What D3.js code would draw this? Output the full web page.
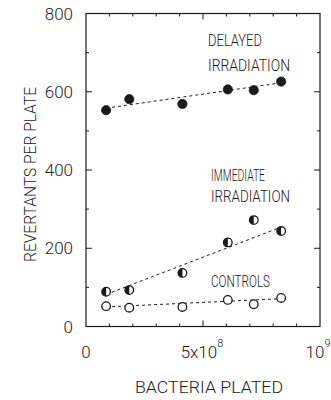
<!DOCTYPE html>
<html><head><meta charset="utf-8">
<script src="https://cdn.jsdelivr.net/npm/d3@7"></script>
<style>
html,body{margin:0;padding:0;background:#fff;}
svg text{font-family:Roboto,"Liberation Sans",sans-serif;font-weight:300;fill:#1a1a1a;}
</style></head>
<body><svg id="c" width="331" height="400"></svg>
<script>
// Data (bacteria plated, x 1e8 units)
const bacteria = [0.86, 1.85, 4.12, 6.06, 7.17, 8.34];
const delayed   = [553, 581, 569, 606, 604, 626];
const immediate = [89, 93, 137, 215, 272, 244];
const controls  = [52, 48, 50, 68, 57, 73];
// dashed fit lines: values at first and last plated amount
const fitX = [0.86, 8.34];
const fitDelayed   = [558, 623];
const fitImmediate = [82, 254];
const fitControls  = [50, 71];
const yTicks = [0, 200, 400, 600, 800];
const yMinor = [100, 300, 500, 700];
const xMinor = [1,2,3,4,6,7,8,9];

const svg = d3.select("#c");
const x = d3.scaleLinear().domain([0, 10]).range([86, 320]);
const y = d3.scaleLinear().domain([0, 800]).range([326.5, 13.5]);
const ink = "#1a1a1a";

// frame
svg.append("rect").attr("x", x(0)).attr("y", y(800))
  .attr("width", x(10)-x(0)).attr("height", y(0)-y(800))
  .attr("fill","none").attr("stroke",ink).attr("stroke-width",1.2);

// ticks (inward, all sides)
const g = svg.append("g").attr("stroke",ink).attr("stroke-width",1);
yTicks.slice(1,-1).forEach(v=>{
  g.append("line").attr("x1",x(0)).attr("x2",x(0)+6).attr("y1",y(v)).attr("y2",y(v));
  g.append("line").attr("x1",x(10)).attr("x2",x(10)-6).attr("y1",y(v)).attr("y2",y(v));
});
yMinor.forEach(v=>{
  g.append("line").attr("x1",x(0)).attr("x2",x(0)+3).attr("y1",y(v)).attr("y2",y(v));
  g.append("line").attr("x1",x(10)).attr("x2",x(10)-3).attr("y1",y(v)).attr("y2",y(v));
});
[5].forEach(v=>{
  g.append("line").attr("x1",x(v)).attr("x2",x(v)).attr("y1",y(0)).attr("y2",y(0)-6);
  g.append("line").attr("x1",x(v)).attr("x2",x(v)).attr("y1",y(800)).attr("y2",y(800)+6);
});
xMinor.forEach(v=>{
  g.append("line").attr("x1",x(v)).attr("x2",x(v)).attr("y1",y(0)).attr("y2",y(0)-3);
  g.append("line").attr("x1",x(v)).attr("x2",x(v)).attr("y1",y(800)).attr("y2",y(800)+3);
});

// y tick labels
svg.selectAll(".yl").data(yTicks).enter().append("text")
  .attr("x", 73).attr("y", d=>y(d)+6).attr("text-anchor","end")
  .attr("font-size",17).text(d=>d);

// x tick labels
svg.append("text").attr("x",x(0)).attr("y",358).attr("text-anchor","middle").attr("font-size",17).text("0");
const t5 = svg.append("text").attr("x",x(5)-1).attr("y",358).attr("text-anchor","middle").attr("font-size",17);
t5.append("tspan").text("5x10");
t5.append("tspan").attr("dy",-11).attr("font-size",11).text("8");
const t9 = svg.append("text").attr("x",x(10)-2).attr("y",358).attr("text-anchor","middle").attr("font-size",17);
t9.append("tspan").text("10");
t9.append("tspan").attr("dy",-11).attr("font-size",11).text("9");

// axis titles
svg.append("text").attr("transform","translate(36,174.5) rotate(-90)")
  .attr("text-anchor","middle").attr("font-size",17)
  .attr("textLength",175).attr("lengthAdjust","spacingAndGlyphs")
  .text("REVERTANTS PER PLATE");
svg.append("text").attr("x",135).attr("y",393).attr("font-size",16.5)
  .attr("textLength",148).attr("lengthAdjust","spacingAndGlyphs")
  .text("BACTERIA PLATED");

// series labels
function lab(t,xx,yy,len){
  svg.append("text").attr("x",xx).attr("y",yy).attr("font-size",16)
    .attr("textLength",len).attr("lengthAdjust","spacingAndGlyphs").text(t);
}
lab("DELAYED",208,46,54);
lab("IRRADIATION",208,71,82);
lab("IMMEDIATE",211,181,54);
lab("IRRADIATION",211,202,79);
lab("CONTROLS",211,287,59);

// fit lines
function fit(vals){
  svg.append("path").datum(fitX.map((v,i)=>[v,vals[i]]))
    .attr("d", d3.line().x(d=>x(d[0])).y(d=>y(d[1])))
    .attr("fill","none").attr("stroke",ink).attr("stroke-width",1)
    .attr("stroke-dasharray","3,3");
}
fit(fitDelayed); fit(fitImmediate); fit(fitControls);

// markers
const r = 4.3;
// delayed: filled
svg.selectAll(".d").data(bacteria).enter().append("circle")
  .attr("cx",d=>x(d)).attr("cy",(d,i)=>y(delayed[i])).attr("r",r+0.3)
  .attr("fill",ink).attr("stroke",ink).attr("stroke-width",0.8);
// controls: open
svg.selectAll(".c").data(bacteria).enter().append("circle")
  .attr("cx",d=>x(d)).attr("cy",(d,i)=>y(controls[i])).attr("r",r)
  .attr("fill","#fff").attr("stroke",ink).attr("stroke-width",1.3);
// immediate: left half filled
const im = svg.selectAll(".i").data(bacteria).enter().append("g")
  .attr("transform",(d,i)=>`translate(${x(d)},${y(immediate[i])})`);
im.append("circle").attr("r",r).attr("fill","#fff").attr("stroke",ink).attr("stroke-width",1.3);
im.append("path").attr("d",d3.arc()({innerRadius:0,outerRadius:r,startAngle:Math.PI,endAngle:2*Math.PI}))
  .attr("fill",ink);
</script></body></html>
